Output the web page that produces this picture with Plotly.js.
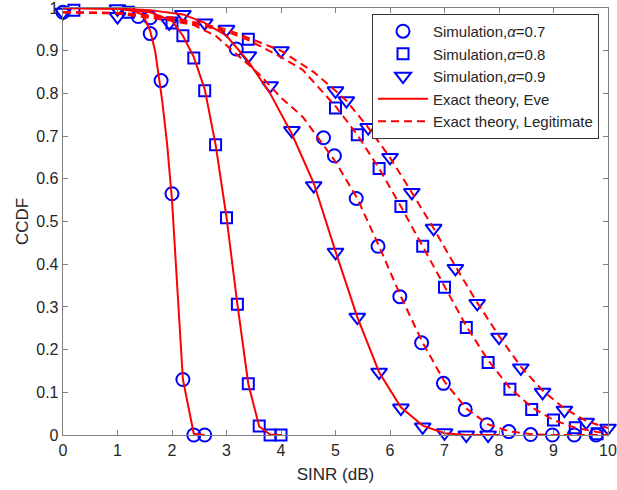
<!DOCTYPE html>
<html>
<head>
<meta charset="utf-8">
<script src="https://cdn.plot.ly/plotly-3.0.1.min.js"></script>
<style>html,body{margin:0;padding:0;background:#fff;}#chart{width:617px;height:490px;}</style>
</head>
<body>
<div id="chart"></div>
<script>
// ---------- Simulation markers ----------
// alpha = 0.7 (circles)
const simEve07X = [0, 1.38, 1.6, 1.8, 2.0, 2.2, 2.4, 2.6];
const simEve07Y = [0.99, 0.98, 0.94, 0.83, 0.565, 0.13, 0, 0];
const simLeg07X = [1.6, 3.18, 4.78, 4.98, 5.38, 5.78, 6.18, 6.58, 6.98, 7.38, 7.78, 8.18, 8.58, 8.98, 9.38, 9.78];
const simLeg07Y = [0.977, 0.904, 0.696, 0.654, 0.554, 0.442, 0.324, 0.216, 0.121, 0.060, 0.024, 0.008, 0.001, 0, 0, 0];
// alpha = 0.8 (squares)
const simEve08X = [0.2, 2.0, 2.2, 2.4, 2.6, 2.8, 3.0, 3.2, 3.4, 3.6, 3.8, 4.0];
const simEve08Y = [0.995, 0.965, 0.935, 0.883, 0.806, 0.68, 0.509, 0.306, 0.12, 0.021, 0, 0];
const simLeg08X = [1.2, 3.4, 5.0, 5.4, 5.8, 6.2, 6.6, 7.0, 7.4, 7.8, 8.2, 8.6, 9.0, 9.4, 9.8];
const simLeg08Y = [0.99, 0.927, 0.766, 0.703, 0.624, 0.535, 0.442, 0.346, 0.252, 0.17, 0.107, 0.06, 0.035, 0.017, 0.003];
// alpha = 0.9 (down triangles)
const simEve09X = [0, 1.0, 1.95, 2.2, 2.6, 3.0, 3.4, 3.8, 4.2, 4.6, 5.0, 5.4, 5.8, 6.2, 6.6, 7.0, 7.4, 7.8];
const simEve09Y = [0.99, 0.98, 0.965, 0.985, 0.965, 0.95, 0.888, 0.818, 0.713, 0.584, 0.428, 0.276, 0.147, 0.063, 0.019, 0.005, 0, 0];
const simLeg09X = [1.0, 4.0, 5.0, 5.2, 5.6, 6.0, 6.4, 6.8, 7.2, 7.6, 8.0, 8.4, 8.8, 9.2, 9.6, 10.0];
const simLeg09Y = [0.998, 0.9, 0.806, 0.783, 0.72, 0.65, 0.568, 0.484, 0.39, 0.308, 0.229, 0.157, 0.1, 0.058, 0.03, 0.016];

// ---------- Exact theory, Eve (solid) ----------
const thEve07X = [0, 1.0, 1.3, 1.47, 1.6, 1.69, 1.82, 1.91, 2.0, 2.2, 2.4, 2.6];
const thEve07Y = [1, 0.998, 0.993, 0.984, 0.946, 0.9, 0.783, 0.682, 0.55, 0.13, 0.003, 0];
const thEve08X = [0, 1.0, 1.6, 2.0, 2.2, 2.4, 2.6, 2.8, 3.0, 3.2, 3.4, 3.6, 3.8, 4.0];
const thEve08Y = [1, 0.999, 0.99, 0.97, 0.935, 0.885, 0.81, 0.68, 0.51, 0.306, 0.12, 0.02, 0.001, 0];
const thEve09X = [0, 1.0, 1.6, 2.2, 2.6, 3.0, 3.4, 3.8, 4.2, 4.6, 5.0, 5.4, 5.8, 6.2, 6.6, 7.0, 7.4, 8.0];
const thEve09Y = [1, 0.999, 0.995, 0.985, 0.965, 0.935, 0.875, 0.8, 0.705, 0.59, 0.43, 0.276, 0.147, 0.065, 0.022, 0.004, 0, 0];

// ---------- Exact theory, Legitimate (dashed) ----------
const thLeg07X = [0, 1, 2, 2.4, 2.8, 3.2, 3.6, 4.0, 4.4, 4.8, 5.0, 5.4, 5.8, 6.2, 6.6, 7.0, 7.4, 7.8, 8.2, 8.6, 9.0, 10];
const thLeg07Y = [0.99, 0.987, 0.97, 0.96, 0.935, 0.89, 0.845, 0.79, 0.745, 0.675, 0.64, 0.554, 0.442, 0.324, 0.216, 0.125, 0.062, 0.025, 0.008, 0.002, 0, 0];
const thLeg08X = [0, 1, 2, 3, 3.4, 4.0, 4.4, 5.0, 5.4, 5.8, 6.2, 6.6, 7.0, 7.4, 7.8, 8.2, 8.6, 9.0, 9.4, 9.8, 10];
const thLeg08Y = [0.99, 0.988, 0.975, 0.945, 0.925, 0.885, 0.855, 0.77, 0.703, 0.624, 0.535, 0.442, 0.346, 0.255, 0.175, 0.11, 0.065, 0.035, 0.017, 0.007, 0.004];
const thLeg09X = [0, 1, 2, 3, 4, 4.6, 5.0, 5.2, 5.6, 6.0, 6.4, 6.8, 7.2, 7.6, 8.0, 8.4, 8.8, 9.2, 9.6, 10.0];
const thLeg09Y = [0.99, 0.989, 0.978, 0.95, 0.9, 0.85, 0.806, 0.783, 0.72, 0.65, 0.568, 0.484, 0.395, 0.31, 0.232, 0.16, 0.104, 0.062, 0.033, 0.016];

// ---------- Axis ticks ----------
const xTickVals = [0, 1, 2, 3, 4, 5, 6, 7, 8, 9, 10];
const xTickText = ['0', '1', '2', '3', '4', '5', '6', '7', '8', '9', '10'];
const yTickVals = [0, 0.1, 0.2, 0.3, 0.4, 0.5, 0.6, 0.7, 0.8, 0.9, 1];
const yTickText = ['0', '0.1', '0.2', '0.3', '0.4', '0.5', '0.6', '0.7', '0.8', '0.9', '1'];

const legendNames = ['Simulation,<i>α</i>=0.7', 'Simulation,<i>α</i>=0.8', 'Simulation,<i>α</i>=0.9',
                     'Exact theory, Eve', 'Exact theory, Legitimate'];

function joinSets(sets) {
  const out = [];
  sets.forEach((s, i) => { if (i > 0) out.push(null); s.forEach(v => out.push(v)); });
  return out;
}

const BLUE = '#0000ff', RED = '#ff0000';
const FONT = 'Liberation Sans, Arial, sans-serif';

function sim(name, xs, ys, symbol, size) {
  return {
    type: 'scatter', mode: 'markers', name: name,
    x: xs, y: ys, cliponaxis: false,
    marker: {symbol: symbol, size: size, color: BLUE, line: {color: BLUE, width: 2}}
  };
}

const traces = [
  sim(legendNames[0], simEve07X.concat(simLeg07X), simEve07Y.concat(simLeg07Y), 'circle-open', 13),
  sim(legendNames[1], simEve08X.concat(simLeg08X), simEve08Y.concat(simLeg08Y), 'square-open', 11),
  sim(legendNames[2], simEve09X.concat(simLeg09X), simEve09Y.concat(simLeg09Y), 'triangle-down-open', 14),
  {
    type: 'scatter', mode: 'lines', name: legendNames[3], connectgaps: false,
    x: joinSets([thEve07X, thEve08X, thEve09X]),
    y: joinSets([thEve07Y, thEve08Y, thEve09Y]),
    line: {color: RED, width: 2}
  },
  {
    type: 'scatter', mode: 'lines', name: legendNames[4], connectgaps: false,
    x: joinSets([thLeg07X, thLeg08X, thLeg09X]),
    y: joinSets([thLeg07Y, thLeg08Y, thLeg09Y]),
    line: {color: RED, width: 2, dash: '8px,5px'}
  }
];

const axisCommon = {
  showgrid: false, zeroline: false, showline: true, mirror: 'ticks',
  linecolor: '#808080', linewidth: 1.3,
  ticks: 'inside', ticklen: 5, tickwidth: 1, tickcolor: '#808080',
  ticklabeloverflow: 'allow',
  tickfont: {family: FONT, size: 16, color: '#262626'}
};

const layout = {
  width: 617, height: 490,
  margin: {l: 63, r: 9, t: 8, b: 55},
  paper_bgcolor: '#ffffff', plot_bgcolor: '#ffffff',
  font: {family: FONT, size: 15, color: '#262626'},
  showlegend: true,
  xaxis: Object.assign({}, axisCommon, {
    range: [0, 10], tickmode: 'array', tickvals: xTickVals, ticktext: xTickText,
    title: {text: 'SINR (dB)', font: {family: FONT, size: 17, color: '#262626'}, standoff: 10}
  }),
  yaxis: Object.assign({}, axisCommon, {
    range: [0, 1], tickmode: 'array', tickvals: yTickVals, ticktext: yTickText,
    title: {text: 'CCDF', font: {family: FONT, size: 17, color: '#262626'}, standoff: 3}
  }),
  legend: {
    x: 0.567, y: 0.986, xanchor: 'left', yanchor: 'top',
    bgcolor: '#ffffff', bordercolor: '#333333', borderwidth: 1,
    font: {family: FONT, size: 15, color: '#262626'},
    tracegroupgap: 0, itemwidth: 50
  }
};

Plotly.newPlot('chart', traces, layout, {displayModeBar: false, staticPlot: true});
</script>
</body>
</html>
